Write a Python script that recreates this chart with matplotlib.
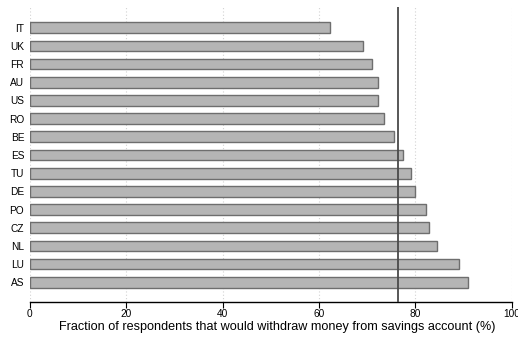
import matplotlib
matplotlib.use("Agg")
import matplotlib.pyplot as plt

countries = ["IT", "UK", "FR", "AU", "US", "RO", "BE", "ES", "TU", "DE",
             "PO", "CZ", "NL", "LU", "AS"]
values = [62.2, 69.2, 71.1, 72.3, 72.3, 73.6, 75.5, 77.5, 79.2, 79.9,
          82.3, 82.8, 84.5, 89.0, 91.0]
reference_value = 76.4
x_ticks = [0, 20, 40, 60, 80, 100]

plt.rcParams["font.family"] = ["Liberation Sans", "DejaVu Sans"]

W, H = 518, 337
fig = plt.figure(figsize=(W / 100, H / 100), dpi=100)
ax = fig.add_axes([29.8 / W, 1 - 302.3 / H, (511.7 - 29.8) / W, (302.3 - 7) / H])

pos = list(range(len(countries)))
ax.barh(pos, values, height=0.59, color="#b5b5b5", edgecolor="#6e6e6e",
        linewidth=1.0, zorder=3)
ax.axvline(reference_value, color="#4a4a4a", linewidth=1.3, zorder=4)

ax.set_xlim(0, 100)
ax.set_ylim(15.1, -1.14)
ax.set_xticks(x_ticks)
ax.set_xticklabels([str(t) for t in x_ticks])
ax.set_yticks(pos)
ax.set_yticklabels(countries)

for t in x_ticks:
    ax.axvline(t, color="#d3d3d3", linewidth=0.8, linestyle=(0, (1, 2)), zorder=1)

for side in ["top", "right", "left"]:
    ax.spines[side].set_visible(False)
ax.spines["bottom"].set_color("black")
ax.spines["bottom"].set_linewidth(1.0)

ax.tick_params(axis="x", length=4, width=0.8, color="black", labelsize=7.3, pad=1)
ax.tick_params(axis="y", length=0, labelsize=7.3, pad=4)

ax.set_xlabel("Fraction of respondents that would withdraw money from savings account (%)",
              fontsize=9.05)
ax.xaxis.set_label_coords(0.513, -0.065, transform=ax.transAxes)
ax.xaxis.label.set_verticalalignment("top")

fig.savefig("out.png", dpi=100)
